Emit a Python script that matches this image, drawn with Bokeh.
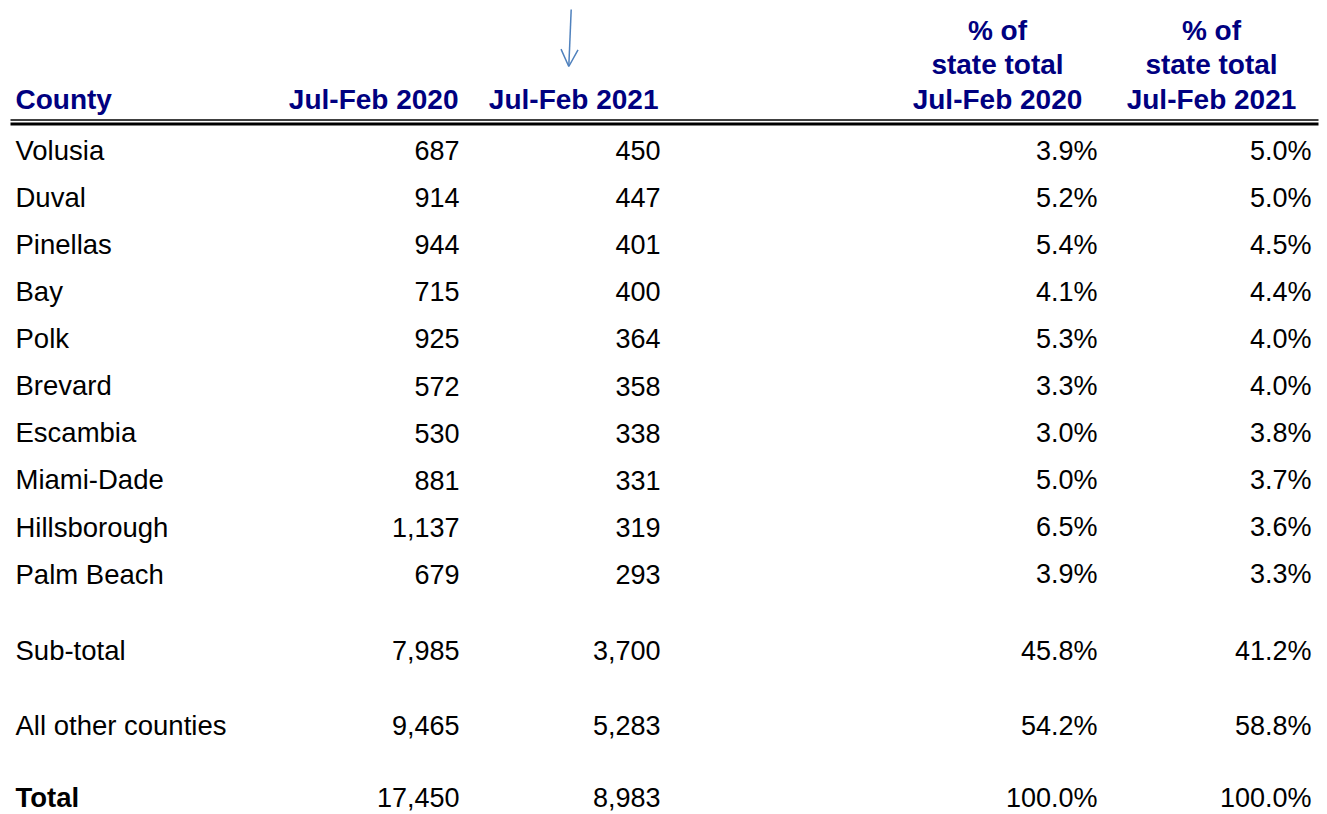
from bokeh.plotting import figure
from bokeh.models import Range1d, ColumnDataSource, Arrow, OpenHead
from bokeh.core.properties import value
from bokeh.embed import file_html
from bokeh.resources import INLINE

# ---- data ----
counties = ["Volusia", "Duval", "Pinellas", "Bay", "Polk", "Brevard", "Escambia",
            "Miami-Dade", "Hillsborough", "Palm Beach", "Sub-total", "All other counties", "Total"]
jul_feb_2020 = [687, 914, 944, 715, 925, 572, 530, 881, 1137, 679, 7985, 9465, 17450]
jul_feb_2021 = [450, 447, 401, 400, 364, 358, 338, 331, 319, 293, 3700, 5283, 8983]
pct_2020 = [3.9, 5.2, 5.4, 4.1, 5.3, 3.3, 3.0, 5.0, 6.5, 3.9, 45.8, 54.2, 100.0]
pct_2021 = [5.0, 5.0, 4.5, 4.4, 4.0, 4.0, 3.8, 3.7, 3.6, 3.3, 41.2, 58.8, 100.0]
headers = ["County", "Jul-Feb 2020", "Jul-Feb 2021",
           "% of\nstate total\nJul-Feb 2020", "% of\nstate total\nJul-Feb 2021"]

# ---- layout (pixel coordinates of the page) ----
W, H = 1327, 814
FONT = value("Liberation Sans")
LBL = 27.5    # label font size (px)
NUM = 27      # number font size (px)
HDR = 28      # header font size (px)
NAVY = "#000080"
OFF = 0.35    # baseline correction (em)

row_base = [159.5, 206.6, 253.7, 300.8, 347.9, 395.0, 442.0, 489.0, 536.2, 583.3,
            659.5, 734.5, 806.5]
col_x = [15, 459, 660, 1097, 1311]

p = figure(width=W, height=H, output_backend="svg", toolbar_location=None,
           x_range=Range1d(0, W), y_range=Range1d(H, 0),
           min_border=0, outline_line_color=None)
p.axis.visible = False
p.grid.visible = False
p.background_fill_color = "white"

src = ColumnDataSource(dict(
    yl=[b - OFF * LBL for b in row_base],
    yn=[b - OFF * NUM for b in row_base],
    county=counties,
    v20=[f"{v:,}" for v in jul_feb_2020],
    v21=[f"{v:,}" for v in jul_feb_2021],
    p20=[f"{v:.1f}%" for v in pct_2020],
    p21=[f"{v:.1f}%" for v in pct_2021],
    style=["normal"] * (len(counties) - 1) + ["bold"],
))

p.text(x=col_x[0], y="yl", text="county", source=src, text_font=FONT, text_font_size=f"{LBL}px",
       text_font_style="style", text_align="left", text_baseline="alphabetic", text_color="black")
for cx, col in zip(col_x[1:], ["v20", "v21", "p20", "p21"]):
    p.text(x=cx, y="yn", text=col, source=src, text_font=FONT, text_font_size=f"{NUM}px",
           text_align="right", text_baseline="alphabetic", text_color="black")

# headers
hb = 108.5 - OFF * HDR
p.text(x=[15], y=[hb], text=[headers[0]], text_font=FONT, text_font_size=f"{HDR}px",
       text_font_style="bold", text_align="left", text_baseline="alphabetic", text_color=NAVY)
p.text(x=[458, 658], y=[hb, hb], text=headers[1:3], text_font=FONT, text_font_size=f"{HDR}px",
       text_font_style="bold", text_align="right", text_baseline="alphabetic", text_color=NAVY)
line_gap = 34.5
for cx, h in zip([997, 1211], headers[3:]):
    lines = h.split("\n")
    n = len(lines)
    ys = [hb - (n - 1 - i) * line_gap for i in range(n)]
    p.text(x=[cx] * n, y=ys, text=lines, text_font=FONT, text_font_size=f"{HDR}px",
           text_font_style="bold", text_align="center", text_baseline="alphabetic", text_color=NAVY)

# double rule under header
p.segment(x0=[10], y0=[119.5], x1=[1318], y1=[119.5], line_color="black", line_width=1.5)
p.segment(x0=[10], y0=[123.5], x1=[1318], y1=[123.5], line_color="black", line_width=3)

# hand-drawn arrow
p.add_layout(Arrow(x_start=570.7, y_start=9, x_end=568.3, y_end=66,
                   line_color="#4F81BD", line_width=1.5,
                   end=OpenHead(size=17, line_color="#4F81BD", line_width=1.5)))

open("out.html", "w").write(file_html(p, INLINE))
